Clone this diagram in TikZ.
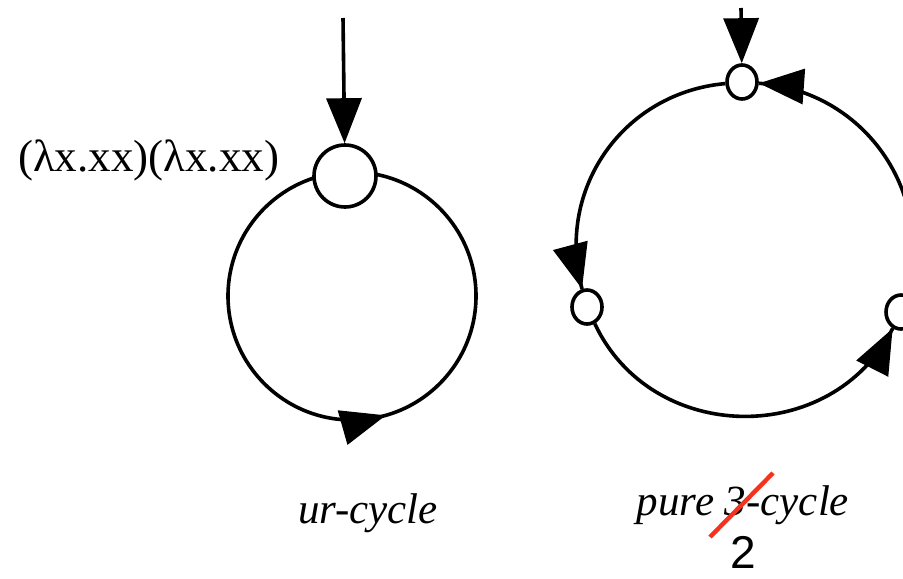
\documentclass[tikz,border=0pt]{standalone}
\usepackage{fontspec}
\setmainfont{Liberation Serif}
\newfontfamily\digitfont{Liberation Sans}
\usetikzlibrary{arrows.meta,shapes.geometric,decorations.markings}

\begin{document}
\begin{tikzpicture}[
    x=0.5pt, y=-0.5pt,
    line width=1.8pt,
    every node/.style={inner sep=0pt},
    redex/.style={draw, circle, fill=white, minimum size=31pt},
    hole/.style={draw, ellipse, fill=white, minimum width=15pt, minimum height=17pt},
    tip/.style={-{Triangle[length=22.5pt,width=17.5pt]}},
    headat/.style={postaction={decorate},
      decoration={markings, mark=at position #1 with {\arrow{Triangle[length=22.5pt,width=17.5pt]}}}},
    lbl/.style={font=\fontsize{21.5}{25}\selectfont},
    strike/.style={draw={rgb,255:red,245;green,50;blue,30}, line width=2.2pt}
]
\clip (0,0) rectangle (903,578);

% Ur-cycle
\coordinate (c1) at (352,296);
\draw[headat=0.794] (c1) circle[radius=62pt];
\node[redex] (lam) at (345,176) {};
\coordinate (in1) at (343,18);
\draw[tip] (in1) -- (lam);
\node[lbl, font=\fontsize{22.5}{26}\selectfont, anchor=base east] (term) at (281,171) {(λx.xx)(λx.xx)};
\node[lbl, anchor=base] (ur) at (368,523) {\itshape ur-cycle};

% Pure cycle
\node[hole] (top) at (742,82) {};
\node[hole] (left) at (587,307) {};
\node[hole] (right) at (901,312) {};
\coordinate (in2) at (741,8);
\draw[tip] (in2) -- (top);
\draw[headat=-0.1pt] (top) to[bend right=50, looseness=1.05] (left);
\draw[headat=-0.1pt] (left) to[bend right=64, looseness=1.15] (right);
\draw[headat=-0.1pt] (right) to[bend right=51, looseness=1.05] (top);
\node[lbl, anchor=base] (pure) at (743,515) {\itshape pure 3-cycle};

% Correction
\coordinate (s1) at (710,537);
\coordinate (s2) at (773,473);
\draw[strike] (s1) -- (s2);
\node[anchor=base, font=\digitfont\fontsize{23}{27}\selectfont] (two) at (743,568) {2};
\end{tikzpicture}
\end{document}
